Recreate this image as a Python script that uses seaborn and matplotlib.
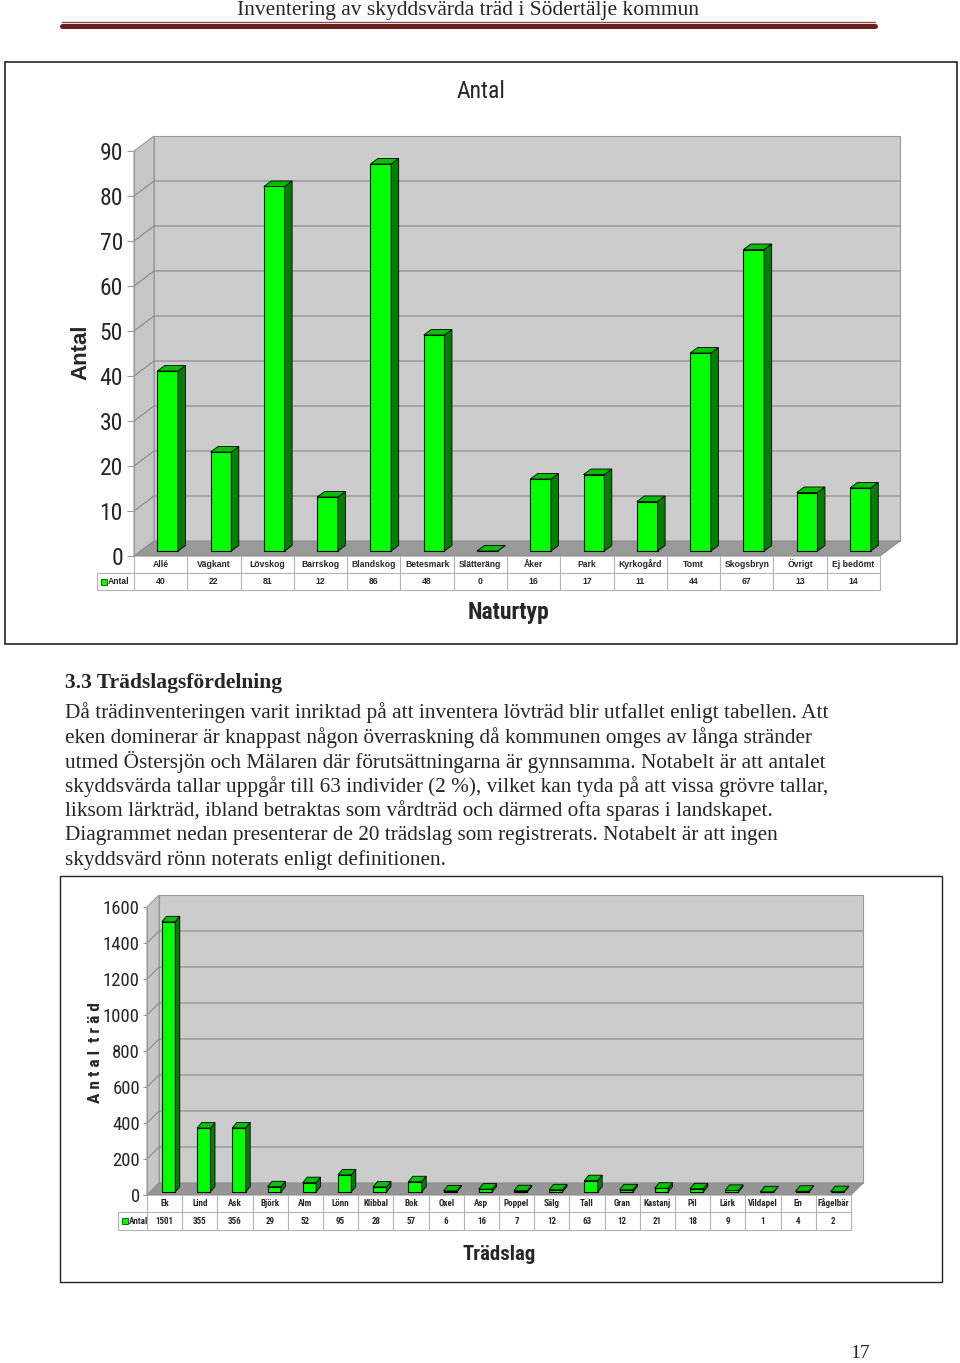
import matplotlib
matplotlib.use('Agg')
import matplotlib.pyplot as plt
import matplotlib.transforms as mtransforms
from matplotlib import font_manager
from matplotlib.patches import Polygon, Rectangle
import seaborn as sns

# --- Data ---
naturtyp = ['Allé', 'Vägkant', 'Lövskog', 'Barrskog', 'Blandskog', 'Betesmark', 'Slätteräng',
            'Åker', 'Park', 'Kyrkogård', 'Tomt', 'Skogsbryn', 'Övrigt', 'Ej bedömt']
naturtyp_antal = [40, 22, 81, 12, 86, 48, 0, 16, 17, 11, 44, 67, 13, 14]
naturtyp_ticks = [0, 10, 20, 30, 40, 50, 60, 70, 80, 90]

tradslag = ['Ek', 'Lind', 'Ask', 'Björk', 'Alm', 'Lönn', 'Klibbal', 'Bok', 'Oxel', 'Asp',
            'Poppel', 'Sälg', 'Tall', 'Gran', 'Kastanj', 'Pil', 'Lärk', 'Vildapel', 'En', 'Fågelbär']
tradslag_antal = [1501, 355, 356, 29, 52, 95, 28, 57, 6, 16, 7, 12, 63, 12, 21, 18, 9, 1, 4, 2]
tradslag_ticks = [0, 200, 400, 600, 800, 1000, 1200, 1400, 1600]

header_text = 'Inventering av skyddsvärda träd i Södertälje kommun'
heading = '3.3 Trädslagsfördelning'
paragraph = [
    'Då trädinventeringen varit inriktad på att inventera lövträd blir utfallet enligt tabellen. Att',
    'eken dominerar är knappast någon överraskning då kommunen omges av långa stränder',
    'utmed Östersjön och Mälaren där förutsättningarna är gynnsamma. Notabelt är att antalet',
    'skyddsvärda tallar uppgår till 63 individer (2 %), vilket kan tyda på att vissa grövre tallar,',
    'liksom lärkträd, ibland betraktas som vårdträd och därmed ofta sparas i landskapet.',
    'Diagrammet nedan presenterar de 20 trädslag som registrerats. Notabelt är att ingen',
    'skyddsvärd rönn noterats enligt definitionen.',
]
page_no = '17'

# --- Styling ---
sns.set_style('white')
plt.rcParams['font.family'] = ['Liberation Sans', 'DejaVu Sans']

# narrow (Arial Narrow like) font if one is installed, otherwise a smaller regular one
fonts = font_manager.fontManager.ttflist
names = {f.name for f in fonts}
NARROW, NSCALE = dict(family='Liberation Sans'), 0.84
for cand in ['Liberation Sans Narrow', 'Roboto Condensed', 'Open Sans Condensed',
             'Noto Sans Condensed', 'DejaVu Sans Condensed', 'Arial Narrow']:
    if cand in names:
        NARROW, NSCALE = dict(family=cand), 1.0
        break
else:
    cond = [f.name for f in fonts if str(f.stretch) in ('condensed', 'semi-condensed')]
    if cond:
        NARROW, NSCALE = dict(family=cond[0], stretch='condensed'), 0.95

W, H, DPI = 960, 1363, 100


def px_axes(fig, left, top, right, bottom):
    return fig.add_axes([left / W, 1 - bottom / H, (right - left) / W, (bottom - top) / H])


def draw_chart(fig, box, cats, vals, ticks, cfg):
    left, top, right, bottom = box
    n = len(cats)
    ymax = ticks[-1]
    ax = px_axes(fig, left, top, right, bottom)
    sx = n / (right - left)
    sy = ymax / (bottom - top)
    wx, wy = cfg['wall'][0] * sx, cfg['wall'][1] * sy
    x0, x1 = -0.5, n - 0.5

    # back wall, side wall, gridlines, floor
    ax.add_patch(Rectangle((x0 + wx, wy), n, ymax, fc='#cccccc', ec='#9a9a9a', lw=0.8,
                           zorder=0, clip_on=False))
    ax.add_patch(Polygon([(x0, 0), (x0, ymax), (x0 + wx, ymax + wy), (x0 + wx, wy)],
                         fc='#c6c6c6', ec='#9a9a9a', lw=0.8, zorder=0, clip_on=False))
    for t in ticks[1:-1]:
        ax.plot([x0, x0 + wx, x1 + wx], [t, t + wy, t + wy], color='#8e8e8e', lw=0.9,
                zorder=0.5, clip_on=False)
    ax.add_patch(Polygon([(x0, 0), (x1, 0), (x1 + wx, wy), (x0 + wx, wy)],
                         fc=cfg['floor'], ec='#8c8c8c', lw=0.8, zorder=0.6, clip_on=False))

    # bars
    sns.barplot(x=cats, y=vals, ax=ax, color='#00ff00', saturation=1, width=cfg['bar_w'],
                edgecolor='black', linewidth=0.8, zorder=2)
    shift = mtransforms.ScaledTranslation(cfg['shift'][0] / DPI, cfg['shift'][1] / DPI,
                                          fig.dpi_scale_trans)
    tr = ax.transData + shift
    dx, dy = cfg['depth'][0] * sx, cfg['depth'][1] * sy
    for bar in ax.containers[0]:
        bar.set_transform(tr)
        bar.set_clip_on(False)
        bx, bw, bh = bar.get_x(), bar.get_width(), bar.get_height()
        side = [(bx + bw, 0), (bx + bw, bh), (bx + bw + dx, bh + dy), (bx + bw + dx, dy)]
        cap = [(bx, bh), (bx + bw, bh), (bx + bw + dx, bh + dy), (bx + dx, bh + dy)]
        ax.add_patch(Polygon(side, fc='#008000', ec='black', lw=0.6, transform=tr,
                             zorder=2, clip_on=False))
        ax.add_patch(Polygon(cap, fc='#00c000', ec='black', lw=0.6, transform=tr,
                             zorder=2, clip_on=False))

    # data table under the floor
    trans = mtransforms.blended_transform_factory(ax.transData, ax.transAxes)
    hpx = bottom - top
    r1 = -cfg['rows'][0] / hpx
    r2 = -(cfg['rows'][0] + cfg['rows'][1]) / hpx
    lx = x0 - (left - cfg['legend_left']) * sx
    line_kw = dict(color='#b4b4b4', lw=0.8, transform=trans, clip_on=False)
    ax.plot([lx, x1], [r1, r1], **line_kw)
    ax.plot([lx, x1], [r2, r2], **line_kw)
    ax.plot([lx, lx], [r1, r2], **line_kw)
    for k in range(n + 1):
        ax.plot([x0 + k, x0 + k], [0, r2], **line_kw)
    cell_kw = dict(transform=trans, ha='center', va='center', fontsize=cfg['cell_fs'],
                   fontweight='bold', clip_on=False, **cfg['cell_font'])
    for i, (c, v) in enumerate(zip(cats, vals)):
        ax.text(i, r1 / 2, c, **cell_kw)
        ax.text(i, (r1 + r2) / 2, str(v), **cell_kw)
    ym = (r1 + r2) / 2
    ax.add_patch(Rectangle((lx + 4 * sx, ym - 3 / hpx), 6 * sx, 6 / hpx, fc='#00ff00',
                           ec='#005000', lw=0.6, transform=trans, clip_on=False))
    ax.text(lx + 11 * sx, ym, 'Antal', transform=trans, ha='left', va='center',
            fontsize=cfg['cell_fs'], fontweight='bold', **cfg['cell_font'])

    # axes styling
    ax.set_xlim(x0, x1)
    ax.set_ylim(0, ymax)
    ax.set_xticks([])
    ax.set_xlabel('')
    ax.set_ylabel('')
    ax.set_yticks(ticks)
    ax.set_yticklabels([str(t) for t in ticks], fontsize=cfg['tick_fs'], **NARROW)
    ax.tick_params(axis='y', left=True, length=cfg['tick_len'], width=0.8, color='#9a9a9a',
                   pad=cfg['tick_pad'])
    for s in ['top', 'right', 'bottom']:
        ax.spines[s].set_visible(False)
    ax.spines['left'].set_color('#9a9a9a')
    ax.spines['left'].set_linewidth(0.8)
    ax.patch.set_visible(False)

    def to_ax(px, py):
        return (px - left) / (right - left), (bottom - py) / (bottom - top)

    for txt, pos, kw in cfg['labels']:
        ax.text(*to_ax(*pos), txt, transform=ax.transAxes, ha='center', va='center',
                clip_on=False, **kw)
    return ax


fig = plt.figure(figsize=(W / DPI, H / DPI), dpi=DPI)

# --- Page ---
page = fig.add_axes([0, 0, 1, 1])
page.set_xlim(0, W)
page.set_ylim(H, 0)
page.axis('off')
page.text(468, 15, header_text, ha='center', va='baseline', fontsize=15.5,
          family='Liberation Serif')
page.plot([62, 875], [21.5, 21.5], color='#8a4b4b', lw=1.0)
page.plot([62, 875], [26, 26], color='#6b2020', lw=3.6)
page.add_patch(Rectangle((5, 62), 952, 582, fill=False, ec='#222222', lw=1.2))
page.add_patch(Rectangle((60, 876), 882, 406, fill=False, ec='#222222', lw=1.0))
page.text(65, 683, heading, ha='left', va='center', fontsize=15.5, fontweight='bold',
          family='Liberation Serif')
for k, line in enumerate(paragraph):
    page.text(65, 713 + k * 24.5, line, ha='left', va='center', fontsize=15.3,
              family='Liberation Serif')
page.text(860, 1354, page_no, ha='center', va='center', fontsize=14, family='Liberation Serif')

# --- Chart 1: Naturtyp ---
cfg1 = dict(wall=(20, 15), shift=(7, 5), depth=(7.5, 5.5), bar_w=0.39, floor='#999999',
            legend_left=97, rows=(17, 17), tick_fs=17 * NSCALE, tick_len=5, tick_pad=3,
            cell_fs=6.2, cell_font=dict(family='Liberation Sans'),
            labels=[('Antal', (481, 92), dict(fontsize=17 * NSCALE, **NARROW)),
                    ('Naturtyp', (508, 612), dict(fontsize=17 * NSCALE, fontweight='bold', **NARROW)),
                    ('Antal', (81, 352), dict(fontsize=16, fontweight='bold', rotation=90))])
draw_chart(fig, (134, 151, 880, 556), naturtyp, naturtyp_antal, naturtyp_ticks, cfg1)

# --- Chart 2: Trädslag ---
cfg2 = dict(wall=(12, 12), shift=(4, 3), depth=(4.5, 5.5), bar_w=0.38, floor='#959595',
            legend_left=118, rows=(17, 18), tick_fs=13.5 * NSCALE, tick_len=3, tick_pad=2,
            cell_fs=6.5 * NSCALE, cell_font=NARROW,
            labels=[('Trädslag', (499, 1255), dict(fontsize=15 * NSCALE, fontweight='bold', **NARROW)),
                    ('A n t a l  t r ä d', (96, 1053),
                     dict(fontsize=12.5 * NSCALE, fontweight='bold', rotation=90, **NARROW))])
draw_chart(fig, (147, 907, 851, 1195), tradslag, tradslag_antal, tradslag_ticks, cfg2)

fig.savefig('out.png', dpi=DPI)
